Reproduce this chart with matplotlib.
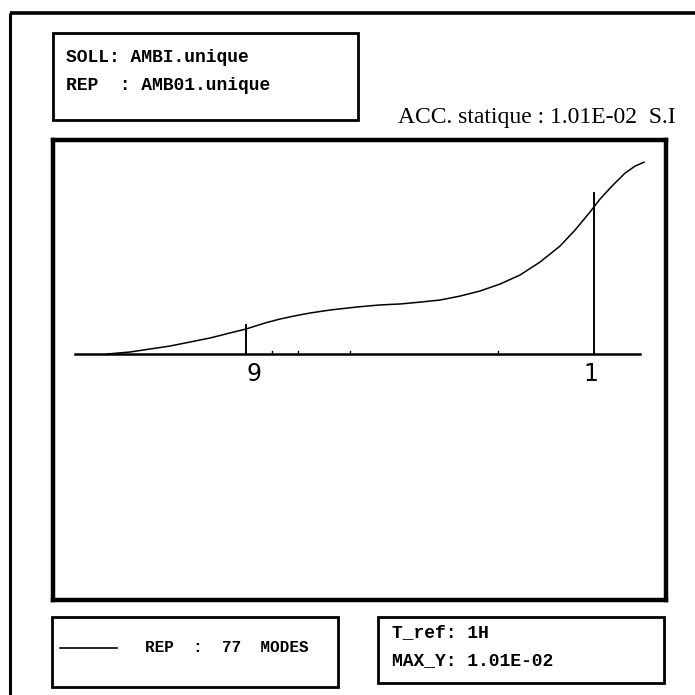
import matplotlib
matplotlib.use("Agg")
from matplotlib import pyplot as plt
from matplotlib.patches import Rectangle

# response curve (normalised frequency axis 0..100, amplitude in S.I)
freq = [5.66, 9.73, 13.27, 16.81, 20.35, 23.89, 27.43, 30.27, 33.63, 36.28,
        38.76, 41.59, 45.13, 49.91, 53.98, 57.52, 61.06, 64.60, 68.14, 71.68,
        75.22, 78.76, 82.30, 85.84, 88.50, 91.15, 92.92, 95.04, 97.35, 99.12,
        100.71]
resp = [0.0, 0.000106, 0.000266, 0.000425, 0.000638, 0.000851, 0.00112,
        0.00133, 0.00165, 0.00186, 0.00202, 0.00218, 0.00234, 0.0025,
        0.00261, 0.00266, 0.00276, 0.00287, 0.00308, 0.00335, 0.00372,
        0.0042, 0.00489, 0.00574, 0.00659, 0.00755, 0.00824, 0.00893,
        0.00962, 0.00999, 0.0102]

# modes marked on the axis
mode_freq = [30.3, 91.9]
mode_height = [0.00154, 0.00856]
mode_labels = ["9", "1"]
minor_modes = [34.9, 39.5, 48.7, 74.9]

soll_text = "SOLL: AMBI.unique"
rep_text = "REP  : AMB01.unique"
title_text = "ACC. statique : 1.01E-02  S.I"
legend_text = "REP  :  77  MODES"
info_lines = ["T_ref: 1H", "MAX_Y: 1.01E-02"]

W = 695
fig = plt.figure(figsize=(6.95, 6.95), dpi=100)

# overlay in pixel coordinates for frames and captions
ov = fig.add_axes([0, 0, 1, 1])
ov.set_xlim(0, W)
ov.set_ylim(W, 0)
ov.axis("off")

# outer page frame
ov.plot([10, 10], [13, 700], color="black", lw=2.2, solid_capstyle="butt")
ov.plot([10, 700], [13, 13], color="black", lw=2.6, solid_capstyle="butt")

boxes = [(53, 33, 305, 87), (52, 617, 286, 70), (378, 617, 286, 66)]
for x0, y0, w, h in boxes:
    ov.add_patch(Rectangle((x0, y0), w, h, fill=False, ec="black", lw=2.0))

mono = dict(family="Liberation Mono", fontweight="bold", color="black", va="center")
ov.text(66, 58, soll_text, fontsize=13, **mono)
ov.text(66, 86, rep_text, fontsize=13, **mono)
ov.text(145, 648, legend_text, fontsize=11.5, **mono)
ov.text(392, 633, info_lines[0], fontsize=13, **mono)
ov.text(392, 661, info_lines[1], fontsize=13, **mono)
ov.plot([60, 117], [648, 648], color="black", lw=1.2)

ov.text(398, 118, title_text, family="Liberation Serif", fontsize=17,
        color="black", va="center", ha="left")

# main plot
ax = fig.add_axes([53 / W, (W - 600) / W, 613 / W, 460 / W])
ax.set_xlim(-3.9, 104.6)
ax.set_ylim(-0.01308, 0.01138)
ax.set_xticks([])
ax.set_yticks([])
for s in ax.spines.values():
    s.set_linewidth(3.2)

ax.plot([0, 100], [0, 0], color="black", lw=1.8)
ax.plot(freq, resp, color="black", lw=1.1)
label_shift = [1.3, -0.6]
for f, h, lab, dx in zip(mode_freq, mode_height, mode_labels, label_shift):
    ax.plot([f, f], [0, h], color="black", lw=1.4)
    ax.text(f + dx, -0.00105, lab, fontsize=17, ha="center", va="center",
            family="DejaVu Sans")
for f in minor_modes:
    ax.plot([f, f], [0, 0.00016], color="black", lw=1.0)

plt.savefig("out.png", dpi=100)
